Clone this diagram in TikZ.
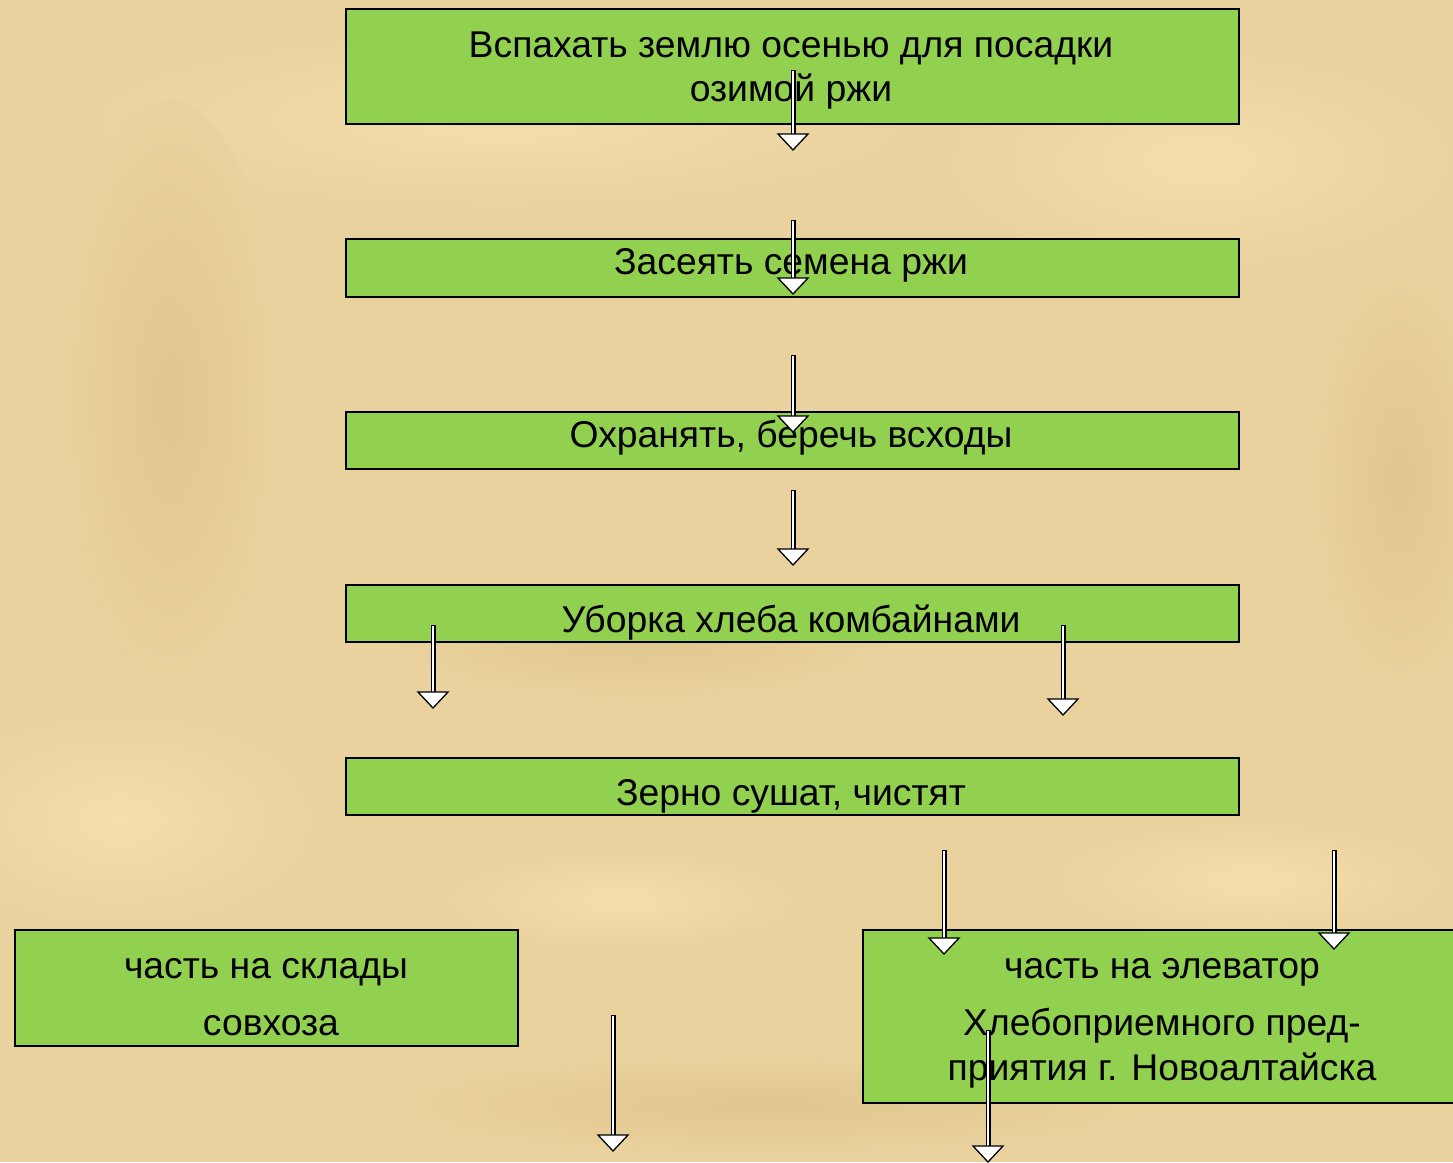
\documentclass[tikz,border=0pt]{standalone}
\usepackage{fontspec}
\setmainfont{Liberation Sans}
\usetikzlibrary{calc}
\definecolor{parch}{RGB}{234,210,158}
\definecolor{parchlight}{RGB}{244,222,170}
\definecolor{parchdark}{RGB}{224,198,142}
\definecolor{boxgreen}{RGB}{146,208,80}
\begin{document}
\begin{tikzpicture}[x=1pt,y=-1pt,
  box/.style={draw=black, line width=1.8pt, fill=boxgreen, inner sep=0pt, anchor=north west},
  txt/.style={font=\fontsize{37.3}{44}\selectfont, inner sep=0pt, anchor=base},
  blobd/.style={inner color=parchdark, outer color=parch},
  blobl/.style={inner color=parchlight, outer color=parch}]
\useasboundingbox (0,0) rectangle (1453,1162);
\fill[parch] (0,0) rectangle (1453,1162);
% soft parchment texture
\begin{scope}
\clip (0,0) rectangle (1453,1162);
\shade[blobl] (500,120) ellipse (420 and 90);
\shade[blobd] (170,400) ellipse (110 and 300);
\shade[blobl] (120,820) ellipse (200 and 110);
\shade[blobd] (640,640) ellipse (260 and 60);
\shade[blobl] (1200,160) ellipse (260 and 110);
\shade[blobd] (1400,480) ellipse (90 and 220);
\shade[blobd] (770,1105) ellipse (400 and 50);
\shade[blobl] (1250,880) ellipse (200 and 60);
\shade[blobl] (620,900) ellipse (180 and 50);
\end{scope}

% boxes
\node[box, minimum width=893pt, minimum height=115pt] (b1) at (345,8) {};
\node[box, minimum width=893pt, minimum height=58pt] (b2) at (345,238) {};
\node[box, minimum width=893pt, minimum height=57pt] (b3) at (345,411) {};
\node[box, minimum width=893pt, minimum height=57pt] (b4) at (345,584) {};
\node[box, minimum width=893pt, minimum height=57pt] (b5) at (345,757) {};
\node[box, minimum width=503pt, minimum height=116pt] (b6) at (14,929) {};
\node[box, minimum width=620pt, minimum height=173pt] (b7) at (862,929) {};

% texts
\node[txt] (t1a) at (791,57) {Вспахать землю осенью для посадки};
\node[txt] (t1b) at (791,101) {озимой ржи};
\node[txt] (t2) at (791,274) {Засеять семена ржи};
\node[txt] (t3) at (791,447) {Охранять, беречь всходы};
\node[txt] (t4) at (791,632) {Уборка хлеба комбайнами};
\node[txt] (t5) at (791,805) {Зерно сушат, чистят};
\node[txt] (t6a) at (266,978) {часть на склады};
\node[txt] (t6b) at (271,1035) {совхоза};
\node[txt] (t7a) at (1162,978) {часть на элеватор};
\node[txt] (t7b) at (1162,1035) {Хлебоприемного пред-};
\node[txt] (t7c) at (1162,1080) {приятия г. Новоалтайска};

% hollow arrows
\foreach \n/\x/\ys/\ye in {a1/793/70/150, a2/793/220/294, a3/793/355/432, a4/793/490/565,
  a5/433/625/708, a6/1063/625/715, a7/944/850/954, a8/1334/850/949,
  a9/613/1015/1151, a10/988/1030/1162} {
  \coordinate (\n s) at (\x,\ys);
  \coordinate (\n e) at (\x,\ye);
  \draw[black, line width=5pt] (\n s) -- ($(\n e)+(0,-14)$);
  \draw[white, line width=2.8pt] ($(\n s)+(0,1)$) -- ($(\n e)+(0,-13)$);
  \draw[black, fill=white, line width=1.3pt, line join=miter] (\n e) -- ++(-15,-16) -- ++(30,0) -- cycle;
}
\end{tikzpicture}
\end{document}
